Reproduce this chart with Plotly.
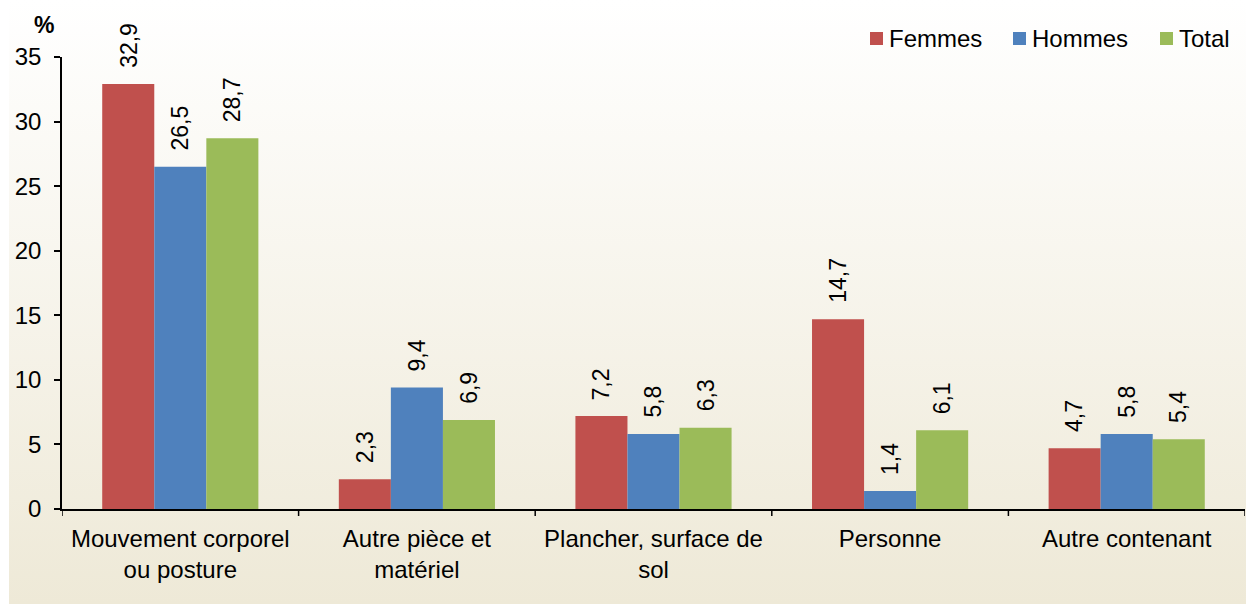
import base64
import plotly.graph_objects as go

# Categories (x axis) and the share of each group, in %
categories = [
    "Mouvement corporel<br>ou posture",
    "Autre pièce et<br>matériel",
    "Plancher, surface de<br>sol",
    "Personne",
    "Autre contenant",
]
femmes = [32.9, 2.3, 7.2, 14.7, 4.7]
hommes = [26.5, 9.4, 5.8, 1.4, 5.8]
total = [28.7, 6.9, 6.3, 6.1, 5.4]

series = [
    ("Femmes", femmes, "#C0504D"),
    ("Hommes", hommes, "#4F81BD"),
    ("Total", total, "#9BBB59"),
]

y_ticks = [0, 5, 10, 15, 20, 25, 30, 35]

W, H = 1246, 605
M_L, M_R, M_T, M_B = 62, 1, 57, 96
PW, PH = W - M_L - M_R, H - M_T - M_B
BARGAP = 0.34
FONT = "Arial, Liberation Sans, sans-serif"
FS = 24


def px_x(px):
    return (px - M_L) / PW


def px_y(py):
    return (H - M_B - py) / PH


fig = go.Figure()
for name, vals, color in series:
    fig.add_trace(go.Bar(
        name=name, x=list(range(len(categories))), y=vals,
        marker=dict(color=color, line=dict(width=0)),
        showlegend=False,
    ))

# Rotated value labels above each bar
bar_w = (1 - BARGAP) / len(series)
annotations = []
for k, (name, vals, color) in enumerate(series):
    off = (k - (len(series) - 1) / 2) * bar_w
    for i, v in enumerate(vals):
        annotations.append(dict(
            x=i + off, y=v, xref="x", yref="y",
            text=f"{v:.1f}".replace(".", ","),
            textangle=-90, showarrow=False,
            xanchor="center", yanchor="bottom", yshift=14,
            font=dict(family=FONT, size=23, color="black"),
        ))

annotations.append(dict(
    x=px_x(44), y=px_y(25), xref="paper", yref="paper",
    text="<b>%</b>", showarrow=False, xanchor="center", yanchor="middle",
    font=dict(family=FONT, size=23, color="black"),
))

# Legend: colour squares with their series names, top right
shapes = []
legend_x = [870, 1013, 1160]
for (name, vals, color), lx in zip(series, legend_x):
    shapes.append(dict(
        type="rect", xref="paper", yref="paper",
        x0=px_x(lx), x1=px_x(lx + 13), y0=px_y(45), y1=px_y(32),
        fillcolor=color, line=dict(width=0),
    ))
    annotations.append(dict(
        x=px_x(lx + 17), y=px_y(38.5), xref="paper", yref="paper",
        text=name, showarrow=False, xanchor="left", yanchor="middle",
        font=dict(family=FONT, size=FS, color="black"),
    ))

# Tick marks at category boundaries on the x axis
for b in range(len(categories) + 1):
    shapes.append(dict(
        type="line", xref="x", yref="paper",
        x0=b - 0.5, x1=b - 0.5, y0=0, y1=-7 / PH,
        line=dict(color="black", width=1.5),
    ))

# Soft vertical gradient behind the chart
svg = (
    '<svg xmlns="http://www.w3.org/2000/svg" width="100" height="100" preserveAspectRatio="none">'
    '<defs><linearGradient id="g" x1="0" y1="0" x2="0" y2="1">'
    '<stop offset="0" stop-color="#FFFFFF"/><stop offset="1" stop-color="#EEE9D7"/>'
    '</linearGradient></defs><rect width="100" height="100" fill="url(#g)"/></svg>'
)
bg_src = "data:image/svg+xml;base64," + base64.b64encode(svg.encode()).decode()

fig.update_layout(
    width=W, height=H,
    margin=dict(l=M_L, r=M_R, t=M_T, b=M_B, pad=0),
    paper_bgcolor="white", plot_bgcolor="rgba(0,0,0,0)",
    barmode="group", bargap=BARGAP, bargroupgap=0,
    font=dict(family=FONT, size=FS, color="black"),
    showlegend=False,
    annotations=annotations,
    shapes=shapes,
    images=[dict(
        source=bg_src, xref="paper", yref="paper",
        x=px_x(9), y=px_y(0), sizex=(W - 9) / PW, sizey=604 / PH,
        xanchor="left", yanchor="top", sizing="stretch", layer="below",
    )],
    xaxis=dict(
        tickmode="array", tickvals=list(range(len(categories))), ticktext=categories,
        range=[-0.5, len(categories) - 0.5],
        showline=True, linecolor="black", linewidth=1.5,
        showgrid=False, zeroline=False,
        ticks="", tickfont=dict(family=FONT, size=FS, color="black"),
        ticklabelstandoff=7,
    ),
    yaxis=dict(
        range=[0, 35], tickmode="array", tickvals=y_ticks,
        showline=True, linecolor="black", linewidth=1.5,
        ticks="outside", ticklen=6, tickwidth=1.5, tickcolor="black",
        showgrid=False, zeroline=False,
        tickfont=dict(family=FONT, size=FS, color="black"),
        ticklabelstandoff=8,
    ),
)

fig.write_html("out.html")
